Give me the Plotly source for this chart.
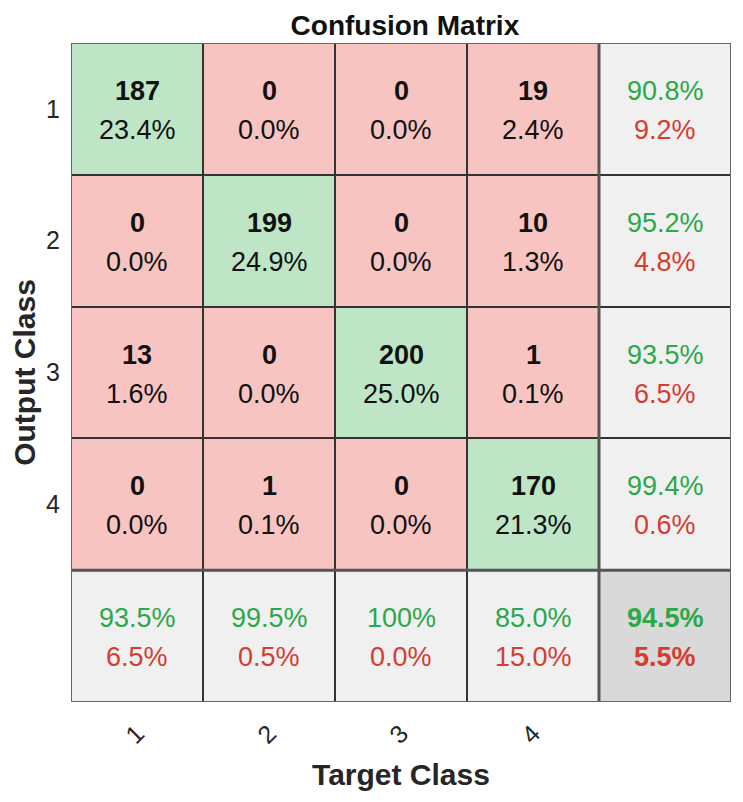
import plotly.graph_objects as go
from decimal import Decimal, ROUND_HALF_UP

classes = ["1", "2", "3", "4"]
# rows = Output Class, columns = Target Class
counts = [
    [187, 0, 0, 19],
    [0, 199, 0, 10],
    [13, 0, 200, 1],
    [0, 1, 0, 170],
]

n = len(classes)
total = sum(sum(r) for r in counts)

GREEN_BG = "#bde5c6"
RED_BG = "#f8c4c1"
LIGHT_BG = "#f0f0f0"
DARK_BG = "#d9d9d9"
GREEN_TX = "#2ba84a"
RED_TX = "#d63c30"
FONT = "Liberation Sans, Arial, sans-serif"


def pct(num, den):
    v = Decimal(num * 100) / Decimal(den)
    if v == 100:
        return "100%"
    return str(v.quantize(Decimal("0.1"), rounding=ROUND_HALF_UP)) + "%"


# colour codes: 0 wrong, 1 correct, 2 summary, 3 overall
z = []
for i in range(n + 1):
    row = []
    for j in range(n + 1):
        if i == n and j == n:
            row.append(3)
        elif i == n or j == n:
            row.append(2)
        elif i == j:
            row.append(1)
        else:
            row.append(0)
    z.append(row)

colorscale = [
    [0.0, RED_BG], [0.25, RED_BG],
    [0.25, GREEN_BG], [0.5, GREEN_BG],
    [0.5, LIGHT_BG], [0.75, LIGHT_BG],
    [0.75, DARK_BG], [1.0, DARK_BG],
]

fig = go.Figure()
fig.add_trace(go.Heatmap(
    z=z, x=list(range(n + 1)), y=list(range(n + 1)),
    colorscale=colorscale, zmin=-0.5, zmax=3.5, showscale=False,
    xgap=2, ygap=2, hoverinfo="skip",
))

ann = []
UP, DN = 18, -21
SZ = 27
for i in range(n):
    for j in range(n):
        c = counts[i][j]
        ann.append(dict(x=j, y=i, text="<b>%d</b>" % c, yshift=UP,
                        font=dict(size=SZ, color="#111111", family=FONT)))
        ann.append(dict(x=j, y=i, text=pct(c, total), yshift=DN,
                        font=dict(size=SZ, color="#111111", family=FONT)))

# row summaries (precision)
for i in range(n):
    rs = sum(counts[i])
    ok = counts[i][i]
    ann.append(dict(x=n, y=i, text=pct(ok, rs), yshift=UP,
                    font=dict(size=SZ, color=GREEN_TX, family=FONT)))
    ann.append(dict(x=n, y=i, text=pct(rs - ok, rs), yshift=DN,
                    font=dict(size=SZ, color=RED_TX, family=FONT)))
# column summaries (recall)
for j in range(n):
    cs = sum(counts[i][j] for i in range(n))
    ok = counts[j][j]
    ann.append(dict(x=j, y=n, text=pct(ok, cs), yshift=UP,
                    font=dict(size=SZ, color=GREEN_TX, family=FONT)))
    ann.append(dict(x=j, y=n, text=pct(cs - ok, cs), yshift=DN,
                    font=dict(size=SZ, color=RED_TX, family=FONT)))
correct = sum(counts[k][k] for k in range(n))
ann.append(dict(x=n, y=n, text="<b>%s</b>" % pct(correct, total), yshift=UP,
                font=dict(size=SZ, color=GREEN_TX, family=FONT)))
ann.append(dict(x=n, y=n, text="<b>%s</b>" % pct(total - correct, total), yshift=DN,
                font=dict(size=SZ, color=RED_TX, family=FONT)))

for a in ann:
    a.update(showarrow=False, xref="x", yref="y")

lo, hi = -0.5, n + 0.5
sep = n - 0.5
shapes = [
    dict(type="line", x0=sep, x1=sep, y0=lo, y1=hi, xref="x", yref="y",
         line=dict(color="#555555", width=3)),
    dict(type="line", x0=lo, x1=hi, y0=sep, y1=sep, xref="x", yref="y",
         line=dict(color="#555555", width=3)),
    dict(type="rect", x0=lo, x1=hi, y0=lo, y1=hi, xref="x", yref="y",
         line=dict(color="#666666", width=2)),
]

fig.update_layout(
    width=735, height=794,
    margin=dict(l=63, r=12, t=35, b=100, autoexpand=False),
    paper_bgcolor="white", plot_bgcolor="#333333",
    annotations=ann, shapes=shapes,
    title=dict(text="<b>Confusion Matrix</b>", x=0.540, xanchor="center",
               y=0.9786, yanchor="middle",
               font=dict(size=28, color="#111111", family=FONT)),
    font=dict(family=FONT),
)
fig.update_xaxes(
    range=[lo, hi], tickvals=list(range(n)), ticktext=classes,
    tickangle=-45, showgrid=False, zeroline=False, showline=False,
    ticks="", ticklabelstandoff=11, automargin=False,
    tickfont=dict(size=25, color="#262626", family=FONT),
    title=dict(text="<b>Target Class</b>", standoff=16,
               font=dict(size=30, color="#262626", family=FONT)),
)
fig.update_yaxes(
    range=[hi, lo], tickvals=list(range(n)), ticktext=classes,
    showgrid=False, zeroline=False, showline=False,
    ticks="", ticklabelstandoff=10, automargin=False,
    tickfont=dict(size=25, color="#262626", family=FONT),
    title=dict(text="<b>Output Class</b>", standoff=8,
               font=dict(size=30, color="#262626", family=FONT)),
)

fig.write_html("out.html")
